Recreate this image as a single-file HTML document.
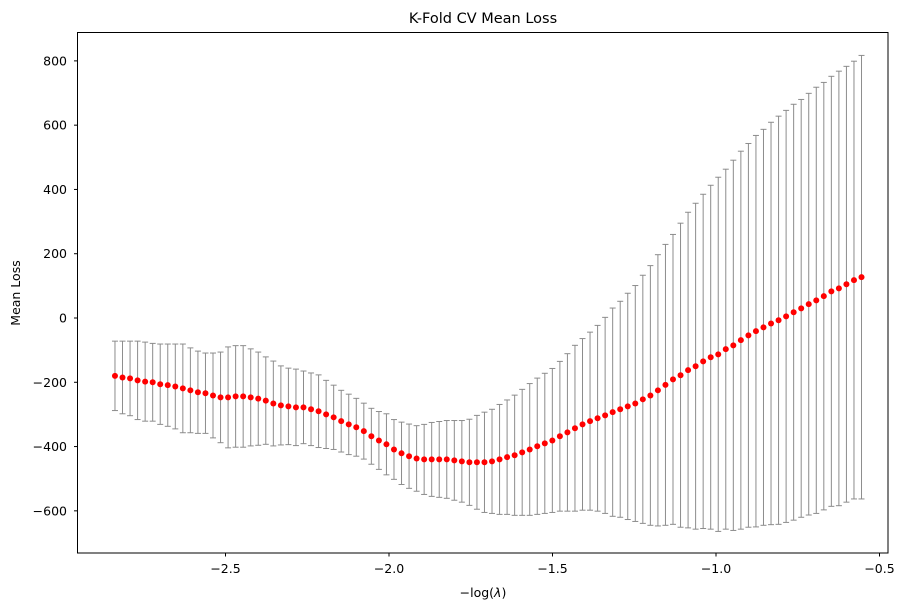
<!DOCTYPE html>
<html><head><meta charset="utf-8"><style>
html,body{margin:0;padding:0;background:#fff;}
svg{display:block;font-family:"DejaVu Sans","Liberation Sans",sans-serif;}
</style></head><body>
<svg id="chart" width="911" height="611" viewBox="0 0 911 611" xmlns="http://www.w3.org/2000/svg">
<rect width="911" height="611" fill="#fff"/>
<text x="483" y="23" text-anchor="middle" font-size="14.5">K-Fold CV Mean Loss</text>
<g id="bars"></g>
<g id="pts"></g>
<g id="xt"></g>
<g id="yt"></g>
<rect x="77.5" y="32.5" width="810.5" height="520.5" fill="none" stroke="#000" stroke-width="1"/>
<text x="483" y="597" text-anchor="middle" font-size="12.5">−log(<tspan font-style="italic">λ</tspan>)</text>
<text transform="translate(20,293) rotate(-90)" text-anchor="middle" font-size="12.5">Mean Loss</text>
</svg>
<script>
const xMin = -2.838, xMax = -0.555;
const meanLoss = [-180,-185,-188,-194,-198,-200,-206,-209,-213,-219,-225,-231,-234,-241,-247,-247,-244,-244,-247,-251,-257,-266,-272,-275,-278,-278,-284,-290,-300,-309,-321,-331,-340,-352,-368,-381,-393,-409,
-421,-430,-437,-440,-440,-440,-440,-443,-446,-449,-449,-449,-446,-440,-433,-427,-418,-409,-399,-390,-381,-368,-356,-343,-331,-321,-312,-303,-293,-284,-275,-266,-253,-241,-225,
-208,
-191,-178,-162,-150,-135,-122,-113,-97,-85,-69,-54,-41,-29,-17,-7,5,18,30,43,55,68,83,92,105,118,127];
const stdLoss = [108,113,116,122,123,121,125,128,132,138,132,128,125,132,141,157,158,158,151,145,136,132,123,119,119,113,113,113,106,100,96,94,90,87,87,
90,95,93,
97,100,102,109,115,118,121,124,127,134,146,156,162,171,178,187,196,205,212,218,224,233,245,258,267,277,289,305,324,336,352,367,386,404,422,
437,
451,473,491,507,520,535,551,560,576,588,597,609,616,626,635,641,647,650,656,663,665,669,676,678,681,690];
const xTicks = [-2.5,-2.0,-1.5,-1.0,-0.5];
const xTickLabels = ["−2.5","−2.0","−1.5","−1.0","−0.5"];
const yTicks = [-600,-400,-200,0,200,400,600,800];
const yTickLabels = ["−600","−400","−200","0","200","400","600","800"];

const NS = "http://www.w3.org/2000/svg";
function X(v){ return 389 + (v + 2) * 327; }
function Y(v){ return 318 - v * 0.3214; }
function mk(tag, attrs, parent){
  const e = document.createElementNS(NS, tag);
  for (const k in attrs) e.setAttribute(k, attrs[k]);
  parent.appendChild(e);
  return e;
}
const n = meanLoss.length;
const bars = document.getElementById('bars'), pts = document.getElementById('pts');
for (let i = 0; i < n; i++) {
  const xv = xMin + (xMax - xMin) * i / (n - 1);
  const cx = X(xv), hi = Y(meanLoss[i] + stdLoss[i]), lo = Y(meanLoss[i] - stdLoss[i]);
  const g = mk('g', {}, bars);
  
  
  mk('line', {x1:cx, x2:cx, y1:hi, y2:lo, stroke:'#8c8c8c', 'stroke-width':1}, g);
  mk('line', {x1:cx-3, x2:cx+3, y1:hi, y2:hi, stroke:'#8c8c8c', 'stroke-width':1}, g);
  mk('line', {x1:cx-3, x2:cx+3, y1:lo, y2:lo, stroke:'#8c8c8c', 'stroke-width':1}, g);
  const c = mk('circle', {cx:cx, cy:Y(meanLoss[i]), r:3, fill:'#ff0000'}, pts);
  
  
}
const xt = document.getElementById('xt');
xTicks.forEach((v, i) => {
  const x = X(v);
  mk('line', {x1:x, x2:x, y1:553, y2:556.5, stroke:'#000', 'stroke-width':1}, xt);
  const t = mk('text', {x:x, y:573, 'text-anchor':'middle', 'font-size':12.5}, xt);
  t.textContent = xTickLabels[i];
  
  
});
const yt = document.getElementById('yt');
yTicks.forEach((v, i) => {
  const y = Y(v);
  mk('line', {x1:74, x2:77.5, y1:y, y2:y, stroke:'#000', 'stroke-width':1}, yt);
  const t = mk('text', {x:67, y:y + 4.5, 'text-anchor':'end', 'font-size':12.5}, yt);
  t.textContent = yTickLabels[i];
  
  
});
</script>
</body></html>
